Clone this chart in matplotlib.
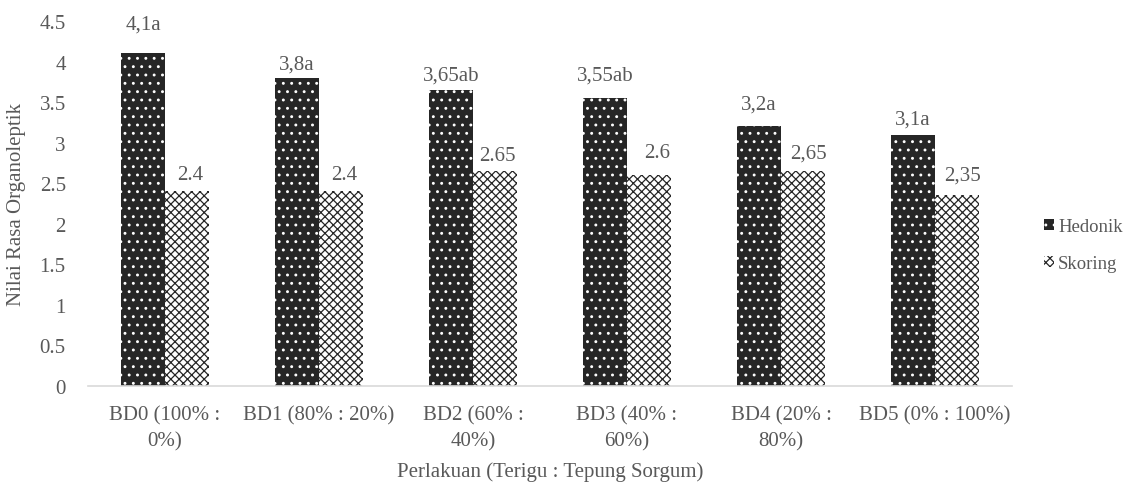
import matplotlib
matplotlib.use("Agg")
import matplotlib.pyplot as plt
import numpy as np

plt.rcParams["font.family"] = ["Liberation Serif", "DejaVu Serif"]
plt.rcParams["hatch.linewidth"] = 0.9

categories = ["BD0 (100% :\n0%)", "BD1 (80% : 20%)", "BD2 (60% :\n40%)",
              "BD3 (40% :\n60%)", "BD4 (20% :\n80%)", "BD5 (0% : 100%)"]
hedonik = [4.1, 3.8, 3.65, 3.55, 3.2, 3.1]
skoring = [2.4, 2.4, 2.65, 2.6, 2.65, 2.35]
hedonik_labels = ["4,1a", "3,8a", "3,65ab", "3,55ab", "3,2a", "3,1a"]
skoring_labels = ["2.4", "2.4", "2.65", "2.6", "2,65", "2,35"]

# label offsets from the bar tops (points): (dx, dy)
hed_off = [(0, 21), (0, 10), (0, 11), (0, 16.5), (0, 16.5), (0, 11.5)]
sko_off = [(2, 12), (2, 12), (2, 11), (6, 16), (4, 13), (4, 15)]

TEXT = "#595959"
DARK = "#262626"
FS = 15

fig = plt.figure(figsize=(11.31, 4.85), dpi=100)
ax = fig.add_axes([0.0778, 0.202, 0.817, 0.7526])

x = np.arange(len(categories))
w = 0.286

b1 = ax.bar(x - w / 2, hedonik, w, color=DARK, edgecolor="white", linewidth=0,
            hatch="..", label="Hedonik")
b2 = ax.bar(x + w / 2, skoring, w, color="white", edgecolor=DARK, linewidth=0,
            hatch="xxxx", label="Skoring")

for xi, v, lab, (dx, dy) in zip(x - w / 2, hedonik, hedonik_labels, hed_off):
    ax.annotate(lab, (xi, v), xytext=(dx, dy), textcoords="offset points",
                ha="center", va="center", fontsize=FS, color=TEXT)
for xi, v, lab, (dx, dy) in zip(x + w / 2, skoring, skoring_labels, sko_off):
    ax.annotate(lab, (xi, v), xytext=(dx, dy), textcoords="offset points",
                ha="center", va="center", fontsize=FS, color=TEXT)

ax.set_xlim(-0.5, len(categories) - 0.5)
ax.set_ylim(0, 4.5)
ax.set_yticks(np.arange(0, 4.51, 0.5))
ax.set_yticklabels(["0", "0.5", "1", "1.5", "2", "2.5", "3", "3.5", "4", "4.5"])
ax.set_xticks(x)
ax.set_xticklabels(categories, linespacing=1.45)
ax.tick_params(axis="both", length=0, labelsize=FS, labelcolor=TEXT)
ax.tick_params(axis="y", pad=16)
ax.tick_params(axis="x", pad=14)

for s in ["top", "right", "left"]:
    ax.spines[s].set_visible(False)
ax.spines["bottom"].set_color("#d9d9d9")
ax.spines["bottom"].set_linewidth(1.2)

ax.set_ylabel("Nilai Rasa Organoleptik", fontsize=FS, color=TEXT, labelpad=10)
ax.set_xlabel("Perlakuan (Terigu : Tepung Sorgum)", fontsize=FS, color=TEXT, labelpad=8)

leg = fig.legend(handles=[b1, b2], loc="upper left", bbox_to_anchor=(0.923, 0.548),
                 frameon=False, fontsize=13.5, handlelength=0.55, handleheight=0.55,
                 handletextpad=0.2, labelspacing=1.05, borderaxespad=0, borderpad=0)
for t in leg.get_texts():
    t.set_color(TEXT)

fig.savefig("out.png", dpi=100)
